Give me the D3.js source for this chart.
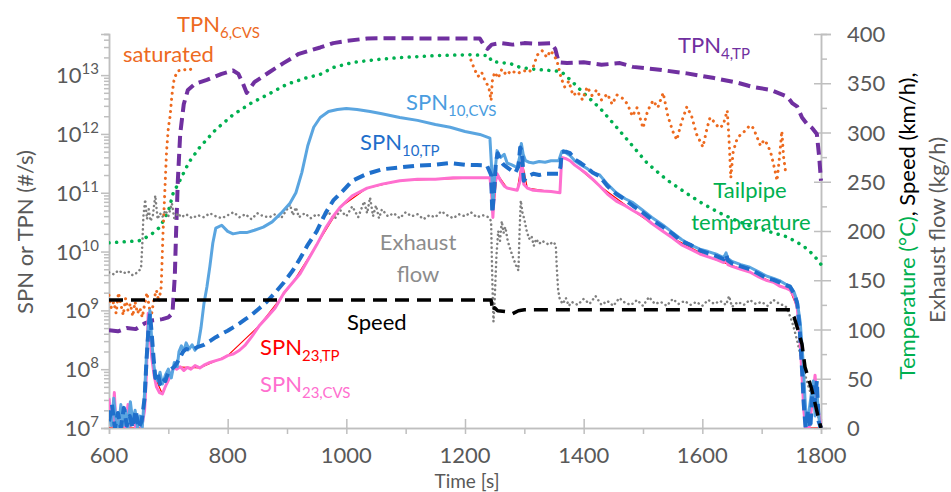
<!DOCTYPE html>
<meta charset="utf-8">
<style>
body { margin: 0; background: #fff; }
text { font-family: Lato, "Open Sans", sans-serif; }
</style>
<body>
<script src="https://cdn.jsdelivr.net/npm/d3@7"></script>
<script>
// ---- data: [time s, value] ----
// particle numbers (#/s), left log axis
var tpn4TP = [[600,4.6e8],[615,4.4e8],[630,5.0e8],[645,4.8e8],[660,6.0e8],[675,6.8e8],[690,7.1e8],[700,7.6e8],[707,8.9e8],
  [711,4e9],[713,2e10],[716,1.6e11],[720,1.0e12],[726,3.2e12],[733,5.6e12],[745,7.1e12],[765,8.3e12],[790,1.05e13],[809,1.2e13],
  [818,1.05e13],[826,7.1e12],[832,5.0e12],[838,6.0e12],[845,7.6e12],[870,1.12e13],[894,1.6e13],[920,2.3e13],[956,2.95e13],
  [978,3.5e13],[1000,3.8e13],[1035,4.2e13],[1080,4.25e13],[1130,4.2e13],[1180,4.2e13],[1225,4.2e13],[1232,3.2e13],[1238,2.8e13],
  [1245,3.3e13],[1260,3.5e13],[1280,3.3e13],[1300,3.5e13],[1320,3.4e13],[1345,3.5e13],[1352,2.8e13],[1358,1.65e13],[1372,1.6e13],
  [1400,1.65e13],[1430,1.5e13],[1461,1.6e13],[1483,1.38e13],[1520,1.26e13],[1574,1.07e13],[1620,8.9e12],[1660,7.4e12],
  [1685,6.3e12],[1715,5.6e12],[1743,4.3e12],[1752,3.3e12],[1760,2.9e12],[1768,1.9e12],[1776,1.5e12],[1785,1.26e12],
  [1793,1.0e12],[1797,4e11],[1800,1.6e11]];

var tpn6CVS = [[600,1.8e9],[604,1.1e9],[608,1.4e9],[612,8.9e8],[616,2.0e9],[620,1.26e9],[624,8.3e8],[628,1.6e9],[632,1.0e9],
  [636,1.3e9],[640,7.9e8],[644,1.4e9],[648,8.9e8],[652,1.1e9],[656,7.6e8],[660,1.26e9],[664,2.0e9],[668,1.1e9],[672,8.9e8],
  [676,1.6e9],[680,2.2e9],[684,1.4e9],[688,2.5e9],[691,2.0e10],[694,1.0e11],[697,5.0e11],[700,1.26e12],[703,2.0e12],
  [706,4.5e12],[710,8.9e12],[716,1.17e13],[725,1.26e13],[732,1.2e13],[738,1.26e13],[745,1.3e13],[746,null],
  [1210,1.8e13],[1216,1.26e13],[1222,9.5e12],[1228,1.12e13],[1234,7.9e12],[1240,6.3e12],[1244,3.7e12],[1246,7.9e12],
  [1250,1.12e13],[1256,8.9e12],[1262,1.26e13],[1270,1.0e13],[1278,1.2e13],[1288,1.05e13],[1298,1.2e13],[1308,1.12e13],
  [1315,1.38e13],[1322,2.2e13],[1330,2.6e13],[1338,2.0e13],[1344,2.6e13],[1350,2.2e13],[1356,1.6e13],[1362,8.9e12],
  [1368,6.3e12],[1375,7.9e12],[1382,4.5e12],[1390,5.2e12],[1398,3.8e12],[1406,6.3e12],[1414,4.5e12],[1422,5.6e12],
  [1430,3.8e12],[1440,4.8e12],[1448,3.2e12],[1456,4.6e12],[1466,4.0e12],[1474,3.2e12],[1482,2.0e12],[1490,2.8e12],
  [1500,1.26e12],[1508,2.5e12],[1517,3.7e12],[1525,2.8e12],[1534,5.0e12],[1542,2.0e12],[1550,1.12e12],[1557,7.9e11],
  [1565,1.6e12],[1574,2.9e12],[1582,2.0e12],[1590,1.0e12],[1601,6.0e11],[1608,1.26e12],[1613,1.9e12],[1620,1.6e12],
  [1628,1.26e12],[1635,1.4e12],[1642,2.5e12],[1645,7.9e11],[1648,1.8e11],[1652,5.0e11],[1658,7.9e11],[1665,1.0e12],
  [1672,1.12e12],[1680,1.4e12],[1686,1.26e12],[1692,8.9e11],[1698,6.3e11],[1704,7.9e11],[1710,6.6e11],[1716,4.5e11],
  [1722,2.5e11],[1726,1.6e11],[1730,4.0e11],[1734,1.12e12],[1737,4.0e11],[1740,2.4e11]];

var spn10CVS = [[600,2.0e7],[604,1.1e7],[608,3.2e7],[612,1.3e7],[616,1.0e7],[620,2.5e7],[624,1.1e7],[628,2.0e7],[632,1.0e7],
  [636,2.8e7],[640,1.3e7],[644,2.0e7],[648,1.0e7],[652,1.6e7],[656,1.0e7],[660,4.0e7],[663,1.6e8],[666,5.0e8],[669,1.0e9],
  [672,3.2e8],[675,1.3e8],[678,7.9e7],[682,6.3e7],[686,8.9e7],[690,5.6e7],[695,7.9e7],[700,1.0e8],[705,7.1e7],[710,1.3e8],
  [715,1.1e8],[718,2.0e8],[722,2.5e8],[726,2.0e8],[730,2.8e8],[735,2.2e8],[740,2.6e8],[745,2.1e8],[750,2.5e8],[755,5.0e8],
  [760,1.3e9],[765,2.5e9],[770,5.6e9],[775,1.4e10],[780,2.5e10],[790,2.8e10],[800,2.2e10],[809,2.0e10],[820,2.1e10],
  [832,2.1e10],[845,2.3e10],[860,2.6e10],[875,3.2e10],[890,4.5e10],[905,6.6e10],[915,1.0e11],[925,2.2e11],[935,6.3e11],
  [945,1.3e12],[956,1.9e12],[970,2.4e12],[985,2.6e12],[1000,2.7e12],[1018,2.6e12],[1040,2.4e12],[1060,2.2e12],[1090,1.9e12],
  [1120,1.7e12],[1150,1.45e12],[1175,1.3e12],[1200,1.1e12],[1225,9.8e11],[1242,8.5e11],[1245,2.5e11],[1247,5.6e10],
  [1250,2.0e11],[1254,5.2e11],[1260,4.0e11],[1266,4.5e11],[1271,3.2e11],[1278,3.0e11],[1284,2.8e11],[1288,2.7e11],
  [1292,4.0e11],[1295,6.9e11],[1298,4.5e11],[1302,3.5e11],[1308,3.3e11],[1315,3.2e11],[1325,3.4e11],[1335,3.3e11],
  [1345,3.5e11],[1358,3.5e11],[1363,5.0e11],[1366,5.2e11],[1370,4.8e11],[1377,4.3e11],[1385,3.5e11],[1395,3.0e11],
  [1405,2.6e11],[1415,2.2e11],[1427,2.0e11],[1440,1.4e11],[1455,1.0e11],[1470,7.9e10],[1483,6.8e10],[1500,5.0e10],
  [1515,3.8e10],[1534,2.8e10],[1550,2.1e10],[1565,1.6e10],[1580,1.3e10],[1596,1.1e10],[1610,1.0e10],[1625,8.9e9],
  [1636,7.9e9],[1640,9.5e9],[1643,7.6e9],[1650,6.8e9],[1665,6.0e9],[1680,5.4e9],[1695,4.5e9],[1709,3.8e9],[1720,3.5e9],
  [1730,3.2e9],[1740,2.8e9],[1748,2.6e9],[1755,2.0e9],[1760,1.4e9],[1765,6.3e8],[1770,1.3e8],[1773,3.2e7],[1776,1.1e7],
  [1780,2.0e7],[1784,4.0e7],[1787,6.3e7],[1790,1.6e7],[1794,3.2e7],[1798,1.0e7]];

var spn10TP = [[600,1.3e7],[605,2.5e7],[610,1.0e7],[615,1.8e7],[620,1.0e7],[625,2.2e7],[630,1.1e7],[635,1.6e7],[640,1.0e7],
  [645,2.0e7],[650,1.0e7],[655,1.3e7],[660,3.2e7],[663,1.3e8],[666,4.0e8],[669,8.9e8],[672,4.0e8],[675,1.6e8],[678,7.1e7],
  [682,8.9e7],[686,5.6e7],[690,7.1e7],[695,6.3e7],[700,8.9e7],[705,1.0e8],[710,1.1e8],[715,1.3e8],[720,1.6e8],[725,2.0e8],
  [730,2.2e8],[740,2.1e8],[750,2.4e8],[760,2.6e8],[770,3.0e8],[780,3.5e8],[790,4.0e8],[800,4.5e8],[810,5.2e8],[820,6.0e8],
  [830,7.1e8],[840,8.3e8],[854,1.1e9],[866,1.4e9],[880,2.0e9],[895,3.0e9],[910,4.8e9],[922,7.6e9],[935,1.3e10],[950,2.2e10],
  [965,4.5e10],[978,7.4e10],[995,1.1e11],[1010,1.6e11],[1035,2.1e11],[1060,2.5e11],[1090,2.7e11],[1120,2.9e11],[1150,3.0e11],
  [1175,3.2e11],[1200,3.0e11],[1220,2.95e11],[1237,2.9e11],[1244,2.0e11],[1246,4.5e10],[1249,1.0e11],[1252,3.2e11],
  [1255,4.7e11],[1260,3.5e11],[1265,3.0e11],[1271,2.7e11],[1278,2.4e11],[1285,2.2e11],[1290,2.8e11],[1293,5.9e11],
  [1296,5.0e11],[1299,1.6e11],[1305,1.9e11],[1315,2.1e11],[1325,2.0e11],[1335,2.1e11],[1345,2.1e11],[1358,2.1e11],
  [1361,2.8e11],[1363,4.9e11],[1370,5.0e11],[1377,4.7e11],[1385,3.7e11],[1395,3.2e11],[1405,2.7e11],[1415,2.2e11],
  [1427,1.9e11],[1440,1.3e11],[1455,9.5e10],[1470,7.6e10],[1483,6.0e10],[1500,4.6e10],[1515,3.5e10],[1534,2.6e10],
  [1550,2.0e10],[1565,1.5e10],[1580,1.3e10],[1596,1.05e10],[1610,9.3e9],[1625,8.3e9],[1636,7.4e9],[1640,8.9e9],[1643,7.1e9],
  [1650,6.3e9],[1665,5.6e9],[1680,5.0e9],[1695,4.2e9],[1709,3.5e9],[1720,3.3e9],[1730,3.0e9],[1740,2.7e9],[1748,2.5e9],
  [1755,1.9e9],[1760,1.3e9],[1764,5.0e8],[1768,1.0e8],[1771,2.5e7],[1774,1.0e7],[1778,2.0e7],[1782,1.0e7],[1786,5.0e7],
  [1789,2.5e7],[1793,6.3e7],[1796,1.3e7],[1800,1.0e7]];

var spn23CVS = [[600,3.2e7],[603,1.6e7],[606,1.1e7],[609,4.0e7],[612,1.0e7],[616,1.4e7],[620,1.0e7],[624,2.0e7],[628,1.0e7],
  [632,2.5e7],[636,1.1e7],[640,1.6e7],[645,1.0e7],[650,1.4e7],[655,1.0e7],[660,2.0e7],[663,7.9e7],[666,8.9e8],[669,4.0e8],
  [672,1.6e8],[676,7.9e7],[680,5.0e7],[685,4.0e7],[690,3.8e7],[694,4.8e7],[697,5.6e7],[702,7.1e7],[706,8.9e7],[710,1.1e8],
  [714,1.0e8],[720,1.1e8],[726,9.5e7],[732,1.07e8],[738,1.0e8],[745,1.15e8],[753,1.05e8],[760,1.17e8],[770,1.3e8],[780,1.4e8],
  [790,1.5e8],[800,1.7e8],[809,1.8e8],[820,2.1e8],[830,2.6e8],[840,3.5e8],[854,5.6e8],[866,7.6e8],[880,1.1e9],[895,2.0e9],
  [910,3.0e9],[922,4.2e9],[935,7.1e9],[950,1.3e10],[965,2.5e10],[978,4.0e10],[989,5.6e10],[1010,8.9e10],[1035,1.2e11],
  [1060,1.4e11],[1090,1.6e11],[1120,1.7e11],[1150,1.7e11],[1180,1.8e11],[1210,1.8e11],[1242,1.8e11],[1245,1.0e11],
  [1247,3.8e10],[1250,1.3e11],[1254,2.1e11],[1260,1.6e11],[1266,1.3e11],[1271,1.2e11],[1280,1.15e11],[1288,1.1e11],
  [1293,1.6e11],[1296,3.5e11],[1299,1.4e11],[1305,1.2e11],[1315,1.1e11],[1330,1.07e11],[1345,1.05e11],[1360,1.0e11],
  [1363,4.0e11],[1370,3.8e11],[1377,3.5e11],[1385,2.95e11],[1395,2.5e11],[1405,2.1e11],[1415,1.7e11],[1427,1.3e11],
  [1440,9.5e10],[1455,7.2e10],[1470,6.0e10],[1483,5.0e10],[1500,4.0e10],[1515,3.0e10],[1534,2.2e10],[1550,1.7e10],
  [1565,1.3e10],[1580,1.1e10],[1596,9.1e9],[1610,8.1e9],[1625,7.2e9],[1636,6.5e9],[1640,7.6e9],[1643,6.0e9],[1650,5.6e9],
  [1665,5.0e9],[1680,4.5e9],[1695,3.7e9],[1709,3.2e9],[1720,3.0e9],[1730,2.6e9],[1740,2.4e9],[1748,2.2e9],[1755,1.7e9],
  [1760,1.1e9],[1764,4.0e8],[1768,7.9e7],[1771,2.0e7],[1774,1.0e7],[1780,1.0e7],[1786,3.2e7],[1790,7.9e7],[1793,2.5e7],
  [1797,1.6e7],[1800,1.0e7]];

var spn23TP = [[600,1.0e7],[655,1.0e7],[663,7.9e7],[666,8.9e8],[669,4.0e8],[676,7.9e7],[690,3.8e7],[710,1.1e8],[753,1.05e8],
  [800,1.7e8],[854,5.6e8],[910,3.0e9],[950,1.3e10],[989,5.6e10],[1035,1.2e11],[1090,1.6e11],[1150,1.7e11],[1242,1.8e11],
  [1247,3.8e10],[1254,2.1e11],[1271,1.2e11],[1288,1.1e11],[1296,3.5e11],[1305,1.2e11],[1360,1.0e11],[1363,4.0e11],
  [1377,3.5e11],[1427,1.3e11],[1483,5.0e10],[1550,1.7e10],[1610,8.1e9],[1680,4.5e9],[1748,2.2e9],[1760,1.1e9],
  [1774,1.0e7],[1800,1.0e7]];

// right axis: tailpipe temperature (°C), speed (km/h), exhaust flow (kg/h)
var tailpipeTemp = [[600,188],[625,189],[650,190],[655,191],[670,196],[686,204],[700,220],[708,238],[720,252],[735,270],
  [753,285],[780,303],[809,318],[840,330],[866,338],[900,349],[930,355],[956,359],[978,366],[1010,371],[1050,374],[1090,376],
  [1150,378],[1208,379],[1240,378],[1245,372],[1276,370],[1293,366],[1320,364],[1343,363],[1362,362],[1380,352],[1400,340],
  [1427,325],[1456,305],[1480,288],[1507,269],[1540,252],[1574,238],[1600,228],[1630,218],[1660,210],[1685,204],[1715,199],
  [1743,194],[1770,185],[1787,176],[1800,166]];

var speed = [[600,130],[1244,130],[1247,118],[1250,122],[1255,119],[1270,118],[1280,116],[1290,119],[1300,120],[1500,120],
  [1748,120],[1755,112],[1762,98],[1768,85],[1773,62],[1778,52],[1784,40],[1790,25],[1795,12],[1800,0]];

var exhaustFlow = [[600,158],[608,156],[616,160],[624,157],[632,159],[640,155],[648,158],[654,162],[656,185],[658,215],
  [661,232],[664,212],[667,222],[670,210],[674,216],[678,236],[682,212],[686,218],[690,214],[695,221],[700,215],[706,228],
  [710,213],[716,218],[722,214],[730,217],[740,213],[750,216],[760,214],[770,218],[780,215],[790,213],[800,216],[810,219],
  [820,214],[830,217],[840,212],[850,218],[860,215],[870,214],[880,217],[890,213],[900,222],[905,227],[910,216],[915,224],
  [920,214],[930,218],[940,213],[950,217],[960,214],[970,219],[980,212],[990,221],[1000,215],[1010,225],[1020,214],
  [1030,230],[1035,218],[1040,234],[1045,215],[1050,226],[1055,213],[1060,222],[1070,215],[1080,218],[1090,213],[1100,219],
  [1110,215],[1120,217],[1130,212],[1140,216],[1150,214],[1160,220],[1170,216],[1180,213],[1190,217],[1200,215],[1210,219],
  [1220,214],[1230,216],[1240,214],[1244,210],[1246,150],[1248,108],[1250,130],[1253,175],[1256,200],[1259,190],[1262,210],
  [1265,198],[1268,204],[1272,190],[1276,182],[1281,173],[1286,165],[1290,160],[1292,200],[1294,231],[1297,218],[1300,212],
  [1304,200],[1308,192],[1312,195],[1316,185],[1320,192],[1325,187],[1330,190],[1336,188],[1342,186],[1348,189],[1353,186],
  [1355,160],[1357,140],[1360,130],[1365,126],[1370,132],[1375,124],[1380,128],[1390,125],[1400,131],[1410,126],[1420,134],
  [1430,125],[1440,129],[1450,124],[1460,132],[1470,127],[1480,125],[1490,130],[1500,124],[1510,133],[1520,126],[1530,128],
  [1540,124],[1550,131],[1560,126],[1570,129],[1580,125],[1590,128],[1600,124],[1610,130],[1620,126],[1630,129],[1640,125],
  [1645,134],[1650,123],[1660,128],[1670,125],[1680,130],[1690,126],[1700,128],[1710,124],[1720,130],[1730,126],[1740,124],
  [1745,118],[1750,110],[1755,100],[1760,88],[1765,75],[1770,62],[1775,50],[1780,40],[1785,32],[1790,22],[1795,12],[1800,4]];

// ticks
var xMajor = [600, 800, 1000, 1200, 1400, 1600, 1800];
var xMinor = [700, 900, 1100, 1300, 1500, 1700];
var leftExp = [7, 8, 9, 10, 11, 12, 13];
var rightMajor = [0, 50, 100, 150, 200, 250, 300, 350, 400];
var rightMinor = [25, 75, 125, 175, 225, 275, 325, 375];

var margin = {top: 34, right: 130, bottom: 64, left: 109},
    width = 951 - margin.left - margin.right,
    height = 492 - margin.top - margin.bottom;

var axisCol = "#bfbfbf", labCol = "#595959";

var x = d3.scaleLinear().domain([600, 1800]).range([0, width]);
var yL = d3.scaleLog().domain([1e7, 5e13]).range([height, 0]);
var yR = d3.scaleLinear().domain([0, 400]).range([height, 0]);

var root = d3.select("body").append("svg")
    .attr("width", 951)
    .attr("height", 492);
var svg = root.append("g")
    .attr("transform", "translate(" + margin.left + "," + margin.top + ")");

svg.append("clipPath").attr("id", "clip")
  .append("rect").attr("x", 0).attr("y", -4).attr("width", width + 2).attr("height", height + 4);

// ---- axes ----
function styleAxis(g) {
  g.selectAll("path.domain").attr("stroke", axisCol).attr("stroke-width", 1.5);
  g.selectAll(".tick line").attr("stroke", axisCol).attr("stroke-width", 1.5);
  g.selectAll(".tick text").remove();
}

// left minor log ticks
var minorL = [];
for (var e = 7; e <= 13; e++) for (var m = 2; m <= 9; m++) if (m * Math.pow(10, e) <= 5e13) minorL.push(m * Math.pow(10, e));
svg.append("g").call(d3.axisLeft(yL).tickValues(minorL).tickSize(5)).call(styleAxis);
svg.append("g").call(d3.axisLeft(yL).tickValues(leftExp.map(function(d){ return Math.pow(10, d); })).tickSize(8)).call(styleAxis);

leftExp.forEach(function(ex) {
  var t = svg.append("text")
      .attr("x", -10).attr("y", yL(Math.pow(10, ex)) + 8)
      .attr("text-anchor", "end").attr("fill", labCol).style("font-size", "22px");
  t.append("tspan").text("10");
  t.append("tspan").attr("dy", -9).style("font-size", "15px").text(ex);
});

// bottom
svg.append("g").attr("transform", "translate(0," + height + ")")
  .call(d3.axisBottom(x).tickValues(xMinor).tickSize(6)).call(styleAxis);
svg.append("g").attr("transform", "translate(0," + height + ")")
  .call(d3.axisBottom(x).tickValues(xMajor).tickSizeInner(6).tickSizeOuter(0)).call(styleAxis)
  .selectAll(".tick line").attr("y1", -9);
xMajor.forEach(function(v) {
  svg.append("text").attr("x", x(v)).attr("y", height + 35)
    .attr("text-anchor", "middle").attr("fill", labCol).style("font-size", "22px").text(v);
});

// right
svg.append("g").attr("transform", "translate(" + width + ",0)")
  .call(d3.axisRight(yR).tickValues(rightMinor).tickSize(6)).call(styleAxis);
svg.append("g").attr("transform", "translate(" + width + ",0)")
  .call(d3.axisRight(yR).tickValues(rightMajor).tickSize(10)).call(styleAxis)
  .selectAll(".tick line").attr("x1", -7);
rightMajor.forEach(function(v) {
  svg.append("text").attr("x", width + 26).attr("y", yR(v) + 8)
    .attr("fill", labCol).style("font-size", "22px").text(v);
});

// ---- series ----
var lineL = d3.line().defined(function(d){ return d[1] != null; })
    .x(function(d){ return x(d[0]); }).y(function(d){ return yL(d[1]); });
var lineR = d3.line()
    .x(function(d){ return x(d[0]); }).y(function(d){ return yR(d[1]); });

var plot = svg.append("g").attr("clip-path", "url(#clip)");

function draw(data, gen, color, w, dash, cap) {
  plot.append("path").datum(data)
    .attr("d", gen)
    .attr("fill", "none")
    .attr("stroke", color)
    .attr("stroke-width", w)
    .attr("stroke-linejoin", "round")
    .attr("stroke-linecap", cap || "butt")
    .attr("stroke-dasharray", dash || null);
}

draw(tailpipeTemp, lineR, "#00b050", 3.5, "0.1,7.5", "round");
draw(tpn4TP, lineL, "#7030a0", 4, "12,6");
draw(tpn6CVS, lineL, "#ed6a1f", 3, "0.1,6", "round");
draw(exhaustFlow, lineR, "#7f7f7f", 2.5, "0.1,4.5", "round");
draw(spn23TP, lineL, "#ff0000", 1.2);
draw(spn23CVS, lineL, "#ff6fcf", 3);
draw(spn10CVS, lineL, "#5aa5e0", 3);
draw(spn10TP, lineL, "#1f6fcb", 4, "11,6");
draw(speed, lineR, "#000000", 3.5, "14,8");

// ---- annotations ----
function label(txt, sub, lx, ly, color, anchor) {
  var t = root.append("text").attr("x", lx).attr("y", ly)
      .attr("fill", color).attr("text-anchor", anchor || "start").style("font-size", "22px");
  t.append("tspan").text(txt);
  if (sub) t.append("tspan").attr("dy", 6).style("font-size", "15px").text(sub);
}
label("TPN", "6,CVS", 177, 32, "#ed6a1f");
label("saturated", null, 123, 62, "#ed6a1f");
label("TPN", "4,TP", 678, 53, "#7030a0");
label("SPN", "10,CVS", 406, 110, "#4a9de0");
label("SPN", "10,TP", 360, 150, "#1f6fcb");
label("Tailpipe", null, 750, 198, "#00b050", "middle");
label("temperature", null, 751, 230, "#00b050", "middle");
label("Exhaust", null, 418, 250, "#8c8c8c", "middle");
label("flow", null, 418, 282, "#8c8c8c", "middle");
label("Speed", null, 347, 330, "#000000");
label("SPN", "23,TP", 260, 355, "#ff0000");
label("SPN", "23,CVS", 260, 392, "#ff6fcf");

// axis titles
root.append("text").attr("x", 467).attr("y", 488).attr("text-anchor", "middle")
  .attr("fill", labCol).style("font-size", "19px").text("Time [s]");
root.append("text").attr("transform", "translate(33,232) rotate(-90)").attr("text-anchor", "middle")
  .attr("fill", labCol).style("font-size", "22px").text("SPN or TPN (#/s)");
var rt = root.append("text").attr("transform", "translate(915,226) rotate(-90)").attr("text-anchor", "middle")
  .style("font-size", "22px");
rt.append("tspan").attr("fill", "#00b050").text("Temperature (°C)");
rt.append("tspan").attr("fill", "#000000").text(", Speed (km/h),");
root.append("text").attr("transform", "translate(945,230) rotate(-90)").attr("text-anchor", "middle")
  .attr("fill", labCol).style("font-size", "22px").text("Exhaust flow (kg/h)");
</script>
</body>
